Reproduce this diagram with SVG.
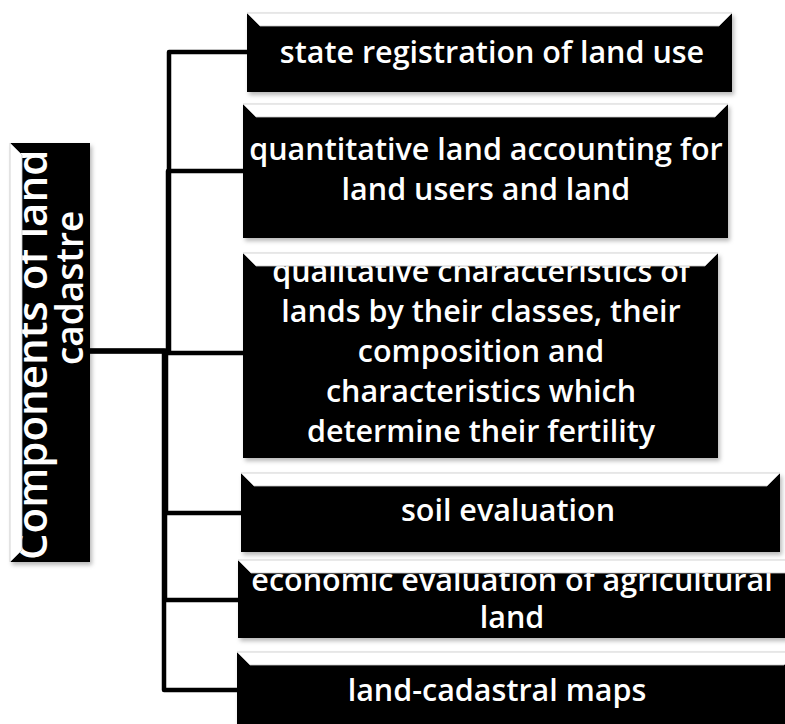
<svg xmlns="http://www.w3.org/2000/svg" width="785" height="724" viewBox="0 0 785 724">
  <defs>
    <filter id="shadow" x="-5%" y="-10%" width="115%" height="130%">
      <feDropShadow dx="2" dy="3" stdDeviation="2" flood-color="#000" flood-opacity="0.28"/>
    </filter>
  </defs>
  <style>
    .box { fill: #000; filter: url(#shadow); }
    .bevel { fill: #fff; stroke: #c8c8c8; stroke-width: 0.8; }
    .lbl { fill: #fff; font-family: "Open Sans", "Liberation Sans", sans-serif; font-weight: 600; font-size: 30.5px; text-anchor: middle; }
    .root { fill: #fff; font-family: "Open Sans", "Liberation Sans", sans-serif; font-weight: 600; text-anchor: start; }
    .conn { fill: none; stroke: #000; stroke-width: 4.5; stroke-linejoin: round; }
  </style>
  <rect width="785" height="724" fill="#fff"/>

  <!-- connectors: elbows from the root box to each component -->
  <g id="connectors">
    <path class="conn" d="M90,351 H169 V52 H247"/>
    <path class="conn" d="M90,351 H168 V171 H243"/>
    <path class="conn" d="M90,351 H167 V353 H243"/>
    <path class="conn" d="M90,351 H166 V513 H241"/>
    <path class="conn" d="M90,351 H165 V600 H238"/>
    <path class="conn" d="M90,351 H164 V690 H237"/>
  </g>

  <!-- root node, text runs bottom to top -->
  <g id="root">
    <rect class="box" x="10" y="143" width="80" height="419"/>
    <text class="root" font-size="42" transform="translate(47,560) rotate(-90)">Components of land</text>
    <text class="root" font-size="37" transform="translate(83,365) rotate(-90)">cadastre</text>
    <polygon class="bevel" points="10,143 22,155 22,550 10,562"/>
  </g>

  <g id="n1">
    <rect class="box" x="247" y="13" width="485" height="79"/>
    <text class="lbl" x="492" y="63">state registration of land use</text>
    <polygon class="bevel" points="247,13 732,13 719,26 260,26"/>
  </g>

  <g id="n2">
    <rect class="box" x="243" y="104" width="485" height="134"/>
    <text class="lbl" x="486" y="160">quantitative land accounting for</text>
    <text class="lbl" x="486" y="200">land users and land</text>
    <polygon class="bevel" points="243,104 728,104 715,117 256,117"/>
  </g>

  <g id="n3">
    <rect class="box" x="243" y="253" width="475" height="205"/>
    <text class="lbl" x="481" y="282">qualitative characteristics of</text>
    <text class="lbl" x="481" y="322">lands by their classes, their</text>
    <text class="lbl" x="481" y="362">composition and</text>
    <text class="lbl" x="481" y="402">characteristics which</text>
    <text class="lbl" x="481" y="442">determine their fertility</text>
    <polygon class="bevel" points="243,253 718,253 705,266 256,266"/>
  </g>

  <g id="n4">
    <rect class="box" x="241" y="473" width="539" height="79"/>
    <text class="lbl" x="508" y="521">soil evaluation</text>
    <polygon class="bevel" points="241,473 780,473 767,486 254,486"/>
  </g>

  <g id="n5">
    <rect class="box" x="238" y="560" width="560" height="78"/>
    <text class="lbl" x="512" y="591">economic evaluation of agricultural</text>
    <text class="lbl" x="512" y="628">land</text>
    <polygon class="bevel" points="238,560 798,560 785,573 251,573"/>
  </g>

  <g id="n6">
    <rect class="box" x="237" y="652" width="560" height="90"/>
    <text class="lbl" x="497" y="701">land-cadastral maps</text>
    <polygon class="bevel" points="237,652 797,652 784,665 250,665"/>
  </g>
</svg>
